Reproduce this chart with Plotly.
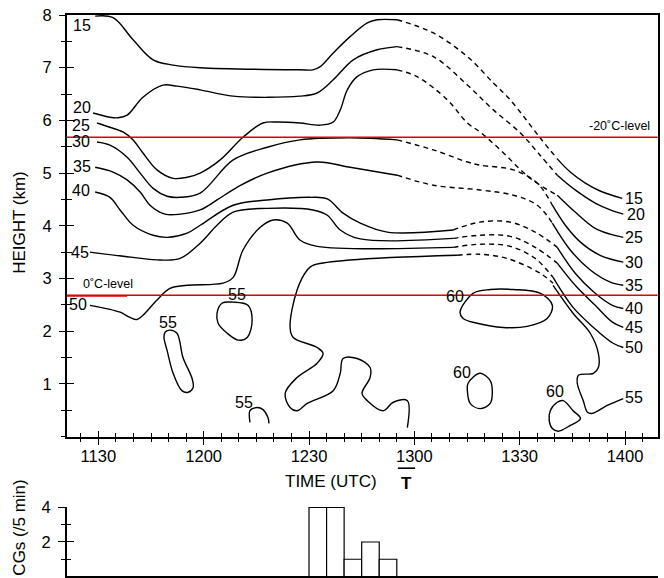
import plotly.graph_objects as go

# ---------------- axis ticks (time in minutes after 11:00 UTC) ----------------
tick_minutes = [30, 60, 90, 120, 150, 180]
tick_labels = ["1130", "1200", "1230", "1300", "1330", "1400"]
x_range = [21, 189.3]

# ---------------- reflectivity contours (time min after 11:00, height km) ----------------
# 15 dBZ
c15_t = [29.1, 34.2, 39.9, 45.6, 51.3, 59.0, 87.4, 91.1, 93.2, 96.9, 101.7, 106.6, 109.4, 115.1]
c15_h = [7.98, 7.95, 7.53, 7.15, 7.05, 7.00, 6.96, 6.96, 7.02, 7.28, 7.59, 7.85, 7.91, 7.91]
c15d_t = [115.1, 125.4, 135.1, 142.5, 147.3, 155.8, 160.7]
c15d_h = [7.91, 7.66, 7.21, 6.71, 6.39, 5.67, 5.27]
c15r_t = [160.7, 164.4, 168.7, 172.9, 179.2]
c15r_h = [5.27, 5.02, 4.81, 4.66, 4.52]
# 20 dBZ
c20_t = [28.5, 33.3, 35.6, 38.2, 42.7, 48.4, 52.4, 59.0, 68.4, 87.4, 92.3, 96.9, 102.6, 109.4, 115.1]
c20_h = [6.14, 6.06, 6.05, 6.10, 6.44, 6.67, 6.65, 6.58, 6.46, 6.46, 6.52, 6.77, 7.15, 7.34, 7.40]
c20d_t = [115.1, 125.4, 135.1, 142.5, 150.2, 155.8, 160.7]
c20d_h = [7.40, 7.21, 6.67, 6.20, 5.76, 5.34, 4.96]
c20r_t = [160.7, 165.8, 171.5, 175.8, 179.5]
c20r_h = [4.96, 4.68, 4.43, 4.30, 4.22]
# 25 dBZ
c25_t = [29.6, 33.3, 37.0, 39.9, 42.7, 46.7, 51.3, 55.3, 59.0, 64.7, 71.2, 76.9, 80.9, 87.4, 93.2,
         96.9, 98.9, 100.9, 103.7, 108.3, 115.1]
c25_h = [5.95, 5.87, 5.78, 5.63, 5.38, 5.06, 4.90, 4.92, 5.00, 5.25, 5.68, 5.95, 5.97, 5.95, 5.91,
         5.97, 6.20, 6.58, 6.83, 6.96, 6.96]
c25d_t = [115.1, 120.8, 129.4, 135.1, 138.7, 144.5, 153.0, 160.7]
c25d_h = [6.96, 6.83, 6.39, 5.95, 5.78, 5.44, 4.90, 4.58]
c25r_t = [160.7, 165.8, 171.5, 175.8, 179.5]
c25r_h = [4.58, 4.26, 3.95, 3.84, 3.78]
# 30 dBZ
c30_t = [29.6, 33.3, 38.2, 41.9, 45.6, 49.6, 53.3, 59.0, 68.4, 78.1, 87.4, 101.7, 115.1]
c30_h = [5.59, 5.53, 5.30, 5.00, 4.71, 4.56, 4.54, 4.62, 5.25, 5.49, 5.63, 5.67, 5.63]
c30d_t = [115.1, 125.4, 135.1, 138.7, 148.2, 155.0, 159.3]
c30d_h = [5.63, 5.44, 5.21, 5.15, 5.06, 4.81, 4.39]
c30r_t = [159.3, 163.0, 167.3, 172.9, 179.5]
c30r_h = [4.39, 4.01, 3.69, 3.44, 3.31]
# 35 dBZ
c35_t = [29.1, 34.2, 38.2, 41.9, 44.7, 49.0, 53.3, 59.0, 63.8, 69.5, 78.1, 92.3, 101.7, 115.1]
c35_h = [5.11, 5.02, 4.87, 4.64, 4.39, 4.22, 4.22, 4.30, 4.49, 4.73, 5.00, 5.21, 5.11, 4.96]
c35d_t = [115.1, 125.4, 138.7, 148.2, 155.0, 159.3]
c35d_h = [4.96, 4.77, 4.68, 4.58, 4.39, 4.05]
c35r_t = [159.3, 164.4, 170.1, 175.8, 179.5]
c35r_h = [4.05, 3.54, 3.16, 2.93, 2.87]
# 40 dBZ
c40_t = [29.1, 33.3, 36.2, 39.9, 45.6, 49.6, 55.3, 59.0, 68.4, 78.1, 90.3, 95.2, 99.7, 104.6, 112.3, 131.1]
c40_h = [4.64, 4.54, 4.30, 4.01, 3.82, 3.78, 3.86, 4.01, 4.39, 4.49, 4.54, 4.51, 4.24, 4.05, 3.88, 3.92]
c40d_t = [131.1, 138.7, 147.3, 154.4, 160.7]
c40d_h = [3.92, 4.07, 4.07, 3.88, 3.59]
c40r_t = [160.7, 165.8, 171.5, 176.4, 179.5]
c40r_h = [3.59, 3.10, 2.72, 2.49, 2.43]
# 45 dBZ
c45_t = [27.6, 39.9, 47.6, 53.3, 59.0, 63.8, 68.4, 78.1, 91.1, 95.2, 98.9, 104.6, 131.1]
c45_h = [3.50, 3.40, 3.35, 3.38, 3.67, 4.01, 4.26, 4.33, 4.30, 4.20, 3.92, 3.75, 3.76]
c45d_t = [131.1, 138.7, 147.3, 154.4, 160.7]
c45d_h = [3.76, 3.82, 3.80, 3.59, 3.29]
c45r_t = [160.7, 165.8, 171.5, 176.4, 179.5]
c45r_h = [3.29, 2.87, 2.49, 2.17, 2.07]
# 50 dBZ
c50_t = [27.6, 36.2, 39.0, 41.0, 42.7, 46.7, 50.4, 55.3, 65.5, 68.4, 71.2, 76.1, 79.8, 83.8, 87.4, 92.3, 131.1]
c50_h = [2.49, 2.36, 2.26, 2.22, 2.30, 2.59, 2.81, 2.87, 2.91, 3.02, 3.54, 3.97, 4.11, 4.05, 3.73, 3.61, 3.59]
c50d_t = [131.1, 138.7, 147.3, 154.4, 159.5]
c50d_h = [3.59, 3.65, 3.61, 3.38, 3.02]
c50r_t = [159.5, 165.2, 171.0, 176.6, 179.5]
c50r_h = [3.02, 2.45, 2.07, 1.77, 1.69]
# 55 dBZ (main)
c55_t = [118.0, 118.0, 114.0, 111.1, 106.6, 105.1, 107.4, 107.4, 103.7, 99.7, 98.9, 96.9, 89.5, 86.6,
         84.6, 83.2, 86.6, 92.3, 94.0, 92.3, 85.5, 84.6, 86.6, 89.5, 91.1, 101.7, 132.2]
c55_h = [0.17, 0.68, 0.65, 0.49, 0.68, 0.82, 1.12, 1.31, 1.48, 1.48, 1.20, 0.87, 0.63, 0.49,
         0.55, 0.82, 1.12, 1.39, 1.58, 1.69, 1.88, 2.07, 2.78, 3.16, 3.25, 3.35, 3.44]
c55d_t = [132.2, 138.7, 146.4, 155.8, 159.5]
c55d_h = [3.44, 3.46, 3.38, 3.10, 2.91]
c55r_t = [159.5, 165.2, 170.1, 172.4, 172.4, 171.0, 166.7, 166.4, 168.1, 169.3, 170.7, 174.9, 179.5]
c55r_h = [2.87, 2.34, 1.96, 1.58, 1.31, 1.20, 1.16, 1.01, 0.68, 0.46, 0.44, 0.59, 0.72]
# 55 dBZ cells
c55a_t = [63.8, 65.2, 68.4, 72.6, 73.8, 72.4, 69.8, 66.7, 64.1, 63.8]
c55a_h = [2.34, 2.53, 2.55, 2.49, 2.21, 1.88, 1.83, 1.96, 2.15, 2.34]
c55b_t = [49.0, 50.4, 52.4, 54.1, 56.7, 57.0, 55.6, 53.8, 51.3, 49.6, 48.7, 49.0]
c55b_h = [1.98, 2.02, 1.96, 1.50, 1.10, 0.93, 0.84, 0.87, 1.20, 1.63, 1.88, 1.98]
c55c_t = [73.2, 73.2, 75.2, 76.9, 78.3, 78.6]
c55c_h = [0.27, 0.49, 0.55, 0.51, 0.36, 0.25]
# 60 dBZ cells
c60a_t = [133.0, 136.8, 141.6, 148.2, 155.8, 159.3, 157.8, 152.1, 145.3, 137.9, 133.9, 133.0]
c60a_h = [2.36, 2.72, 2.79, 2.79, 2.72, 2.49, 2.24, 2.09, 2.07, 2.15, 2.24, 2.36]
c60b_t = [135.3, 138.7, 141.6, 142.2, 141.6, 138.7, 135.9, 135.1, 135.3]
c60b_h = [1.01, 1.20, 1.06, 0.87, 0.63, 0.53, 0.63, 0.87, 1.01]
c60c_t = [158.7, 160.7, 162.4, 165.2, 167.3, 164.4, 161.0, 159.3, 158.4, 158.7]
c60c_h = [0.49, 0.65, 0.68, 0.49, 0.34, 0.21, 0.10, 0.15, 0.30, 0.49]

# ---------------- contour labels ----------------
left_lab_text = ["15", "20", "25", "30", "35", "40", "45", "50"]
left_lab_t = [25.4, 25.4, 25.1, 25.1, 25.4, 25.1, 24.8, 24.2]
left_lab_h = [7.81, 6.24, 5.91, 5.59, 5.13, 4.66, 3.50, 2.51]
right_lab_text = ["15", "20", "25", "30", "35", "40", "45", "50", "55"]
right_lab_t = [182.6, 183.0, 182.6, 182.6, 182.6, 182.6, 182.6, 182.6, 182.6]
right_lab_h = [4.52, 4.22, 3.78, 3.31, 2.87, 2.43, 2.07, 1.69, 0.74]
inner_lab_text = ["55", "55", "55", "60", "60", "60"]
inner_lab_t = [69.5, 49.9, 71.5, 131.6, 133.6, 160.1]
inner_lab_h = [2.70, 2.17, 0.65, 2.66, 1.22, 0.86]

# ---------------- isotherm levels ----------------
iso_heights = [5.68, 2.68]
iso_labels = ["-20˚C-level", "0˚C-level"]

# ---------------- CG lightning counts per 5 min ----------------
cg_start = [90, 95, 100, 105, 110]
cg_counts = [4, 4, 1, 2, 1]

FONT = "Liberation Sans, Arial, Helvetica, sans-serif"
fig = go.Figure()

solid = [(c15_t, c15_h), (c15r_t, c15r_h), (c20_t, c20_h), (c20r_t, c20r_h),
         (c25_t, c25_h), (c25r_t, c25r_h), (c30_t, c30_h), (c30r_t, c30r_h),
         (c35_t, c35_h), (c35r_t, c35r_h), (c40_t, c40_h), (c40r_t, c40r_h),
         (c45_t, c45_h), (c45r_t, c45r_h), (c50_t, c50_h), (c50r_t, c50r_h),
         (c55_t, c55_h), (c55r_t, c55r_h), (c55a_t, c55a_h), (c55b_t, c55b_h),
         (c55c_t, c55c_h), (c60a_t, c60a_h), (c60b_t, c60b_h), (c60c_t, c60c_h)]
dashed = [(c15d_t, c15d_h), (c20d_t, c20d_h), (c25d_t, c25d_h), (c30d_t, c30d_h),
          (c35d_t, c35d_h), (c40d_t, c40d_h), (c45d_t, c45d_h), (c50d_t, c50d_h),
          (c55d_t, c55d_h)]

for t, h in solid:
    fig.add_trace(go.Scatter(x=t, y=h, mode="lines", line=dict(color="black", width=1.4, shape="spline"),
                             showlegend=False, hoverinfo="skip", xaxis="x", yaxis="y"))
for t, h in dashed:
    fig.add_trace(go.Scatter(x=t, y=h, mode="lines",
                             line=dict(color="black", width=1.4, shape="spline", dash="5px,4px"),
                             showlegend=False, hoverinfo="skip", xaxis="x", yaxis="y"))

# CG bars
fig.add_trace(go.Bar(x=cg_start, y=cg_counts, width=5, offset=0,
                     marker=dict(color="white", line=dict(color="black", width=1.2)),
                     showlegend=False, hoverinfo="skip", xaxis="x2", yaxis="y2"))

# invisible traces to activate overlay axes (inside ticks)
fig.add_trace(go.Scatter(x=[100], y=[4], mode="markers", marker=dict(opacity=0), showlegend=False,
                         hoverinfo="skip", xaxis="x3", yaxis="y"))
fig.add_trace(go.Scatter(x=[100], y=[4], mode="markers", marker=dict(opacity=0), showlegend=False,
                         hoverinfo="skip", xaxis="x", yaxis="y3"))
fig.add_trace(go.Scatter(x=[100], y=[1], mode="markers", marker=dict(opacity=0), showlegend=False,
                         hoverinfo="skip", xaxis="x2", yaxis="y4"))

xdom = [0.1005, 0.9905]
ydom_main = [0.2448, 0.974]
ydom_cg = [0.0026, 0.1235]
tickfont = dict(family=FONT, size=16.5, color="black")

fig.update_layout(
    template="none",
    width=664, height=578, margin=dict(l=0, r=0, t=0, b=0, autoexpand=False),
    paper_bgcolor="white", plot_bgcolor="white",
    font=dict(family=FONT, color="black"),
    xaxis=dict(domain=xdom, range=x_range, anchor="y", tickvals=tick_minutes, ticktext=tick_labels,
               ticks="outside", ticklen=7, tickwidth=1.3, tickcolor="black", tickfont=tickfont,
               minor=dict(dtick=5, tick0=0, ticks="outside", ticklen=4, tickwidth=1.3, tickcolor="black"),
               showline=True, linewidth=1.6, linecolor="black", mirror=True, showgrid=False, zeroline=False,
               automargin=False, ticklabelstandoff=-3),
    yaxis=dict(domain=ydom_main, range=[0, 8], anchor="x", tickvals=[1, 2, 3, 4, 5, 6, 7, 8],
               ticks="outside", ticklen=6, tickwidth=1.3, tickcolor="black", tickfont=tickfont,
               minor=dict(dtick=0.5, ticks="outside", ticklen=4, tickwidth=1.3, tickcolor="black"),
               showline=True, linewidth=1.6, linecolor="black", mirror=True, showgrid=False, zeroline=False,
               ticklabelstandoff=4, automargin=False),
    xaxis3=dict(overlaying="x", range=x_range, anchor="y", side="bottom", tickvals=tick_minutes,
                ticks="inside", ticklen=6, tickwidth=1.3, tickcolor="black", showticklabels=False,
                minor=dict(dtick=5, tick0=0, ticks="inside", ticklen=4, tickwidth=1.3, tickcolor="black"),
                showline=False, showgrid=False, zeroline=False, automargin=False),
    yaxis3=dict(overlaying="y", range=[0, 8], anchor="x", side="left", tickvals=[1, 2, 3, 4, 5, 6, 7, 8],
                ticks="inside", ticklen=7, tickwidth=1.3, tickcolor="black", showticklabels=False,
                minor=dict(dtick=0.5, ticks="inside", ticklen=5, tickwidth=1.3, tickcolor="black"),
                showline=False, showgrid=False, zeroline=False, automargin=False),
    xaxis2=dict(domain=xdom, range=x_range, anchor="y2", showticklabels=False, ticks="",
                showline=True, linewidth=1.6, linecolor="black", showgrid=False, zeroline=False,
                automargin=False),
    yaxis2=dict(domain=ydom_cg, range=[0, 4.05], anchor="x2", tickvals=[2, 4],
                ticks="outside", ticklen=7, tickwidth=1.3, tickcolor="black", tickfont=tickfont,
                minor=dict(tickvals=[1, 3], ticks="outside", ticklen=4, tickwidth=1.3, tickcolor="black"),
                showline=True, linewidth=1.6, linecolor="black", showgrid=False, zeroline=False,
                ticklabelstandoff=4, automargin=False),
    yaxis4=dict(overlaying="y2", range=[0, 4.05], anchor="x2", side="left", tickvals=[2, 4],
                ticks="inside", ticklen=7, tickwidth=1.3, tickcolor="black", showticklabels=False,
                minor=dict(tickvals=[1, 3], ticks="inside", ticklen=4, tickwidth=1.3, tickcolor="black"),
                showline=False, showgrid=False, zeroline=False, automargin=False),
)

# isotherm lines
for hgt in iso_heights:
    fig.add_shape(type="line", xref="x domain", yref="y", x0=0, x1=1, y0=hgt, y1=hgt,
                  line=dict(color="#e00000", width=1.6), layer="above")
# slightly heavier start of the 0 C line near the left axis
fig.add_shape(type="line", xref="x domain", yref="y", x0=0, x1=0.102, y0=iso_heights[1] - 0.012,
              y1=iso_heights[1] - 0.012, line=dict(color="#e00000", width=1.6), layer="above")

ann = []
ann.append(dict(text=iso_labels[0], xref="paper", yref="y", x=0.982, y=iso_heights[0] + 0.05,
                xanchor="right", yanchor="bottom", showarrow=False, font=dict(family=FONT, size=12.5)))
ann.append(dict(text=iso_labels[1], xref="paper", yref="y", x=0.122, y=iso_heights[1] + 0.05,
                xanchor="left", yanchor="bottom", showarrow=False, font=dict(family=FONT, size=12.5)))

for txt, t, h in zip(left_lab_text + right_lab_text + inner_lab_text,
                     left_lab_t + right_lab_t + inner_lab_t,
                     left_lab_h + right_lab_h + inner_lab_h):
    ann.append(dict(text=txt, xref="x", yref="y", x=t, y=h, showarrow=False,
                    xanchor="center", yanchor="middle", font=dict(family=FONT, size=16)))

# axis titles
ann.append(dict(text="HEIGHT (km)", xref="paper", yref="paper", x=0.030, y=0.616, textangle=-90,
                showarrow=False, xanchor="center", yanchor="middle", font=dict(family=FONT, size=17)))
ann.append(dict(text="CGs (/5 min)", xref="paper", yref="paper", x=0.030, y=0.087, textangle=-90,
                showarrow=False, xanchor="center", yanchor="middle", font=dict(family=FONT, size=17)))
ann.append(dict(text="TIME (UTC)", xref="paper", yref="paper", x=0.4985, y=0.167,
                showarrow=False, xanchor="center", yanchor="middle", font=dict(family=FONT, size=17)))
ann.append(dict(text="<b>T</b>", xref="x", yref="paper", x=117.7, y=0.163,
                showarrow=False, xanchor="center", yanchor="middle", font=dict(family=FONT, size=17)))
fig.add_shape(type="line", xref="x", yref="paper", x0=115.3, x1=120.2, y0=0.190, y1=0.190,
              line=dict(color="black", width=1.6))

fig.update_layout(annotations=ann)
fig.write_html("out.html", config={"displayModeBar": False},
               post_script="document.body.style.margin='0';document.body.style.padding='0';")
